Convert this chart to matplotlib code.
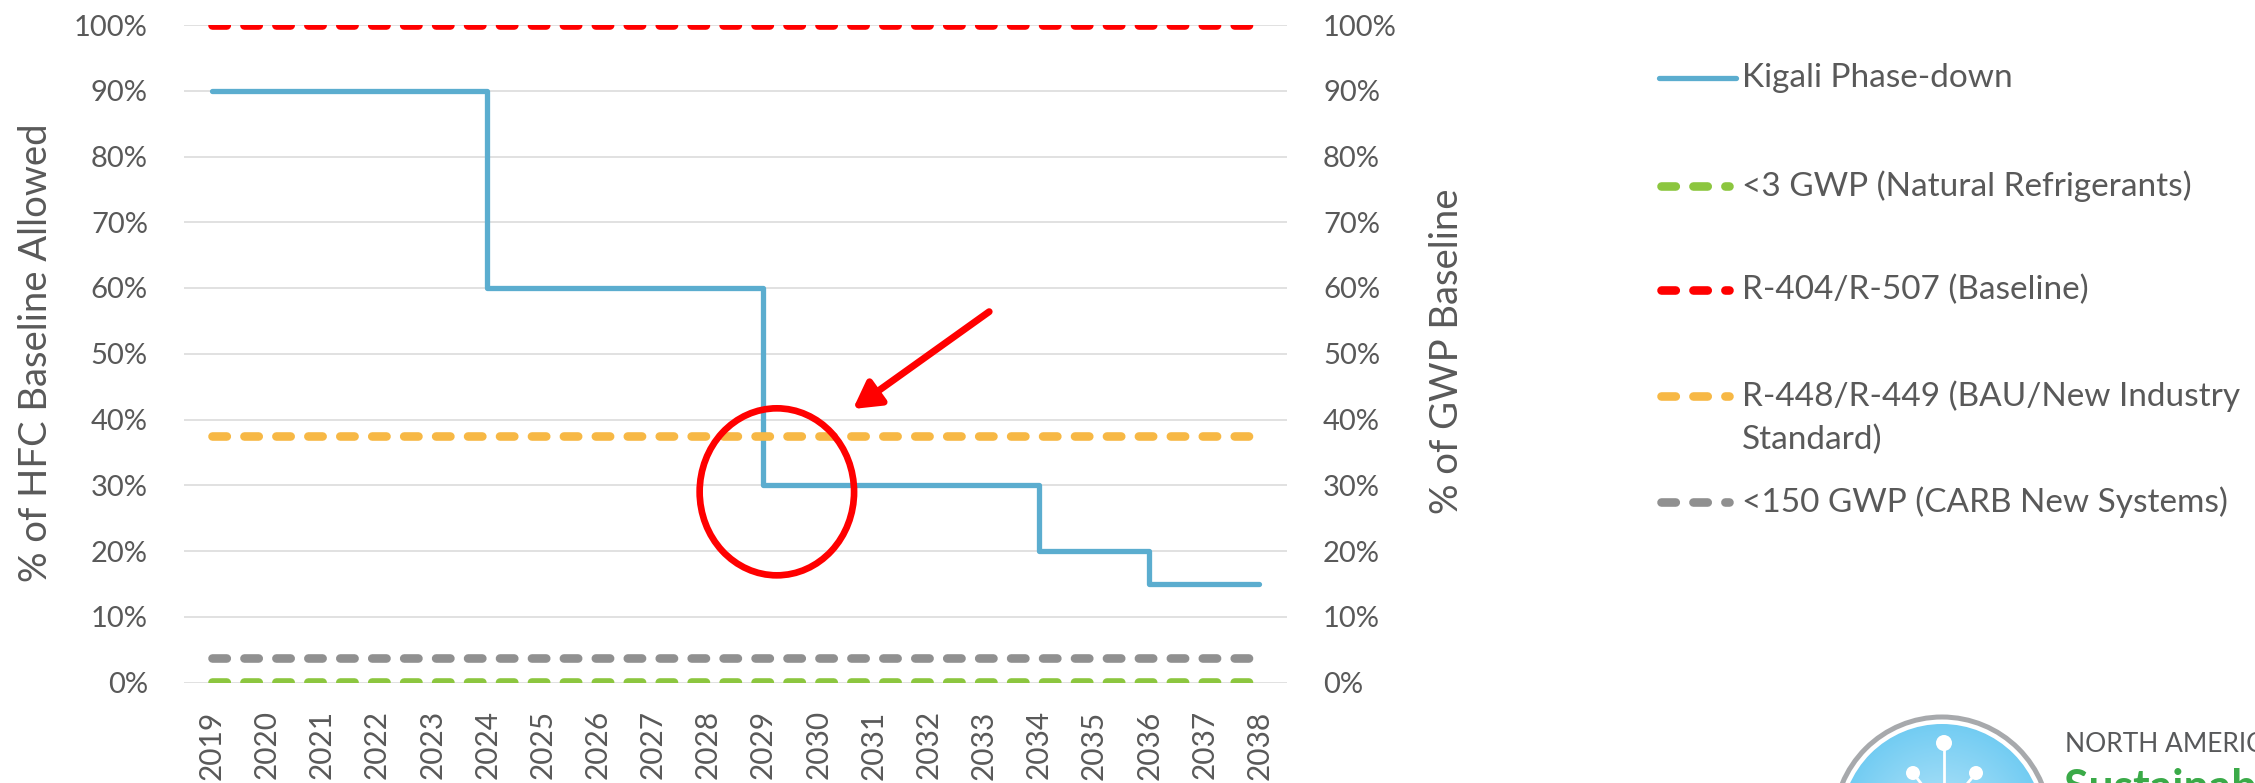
import numpy as np
import matplotlib.pyplot as plt
from matplotlib.patches import Ellipse, Circle
from matplotlib.colors import LinearSegmentedColormap
from matplotlib.ticker import PercentFormatter

plt.rcParams['font.family'] = ['Lato', 'DejaVu Sans']
plt.rcParams['lines.scale_dashes'] = False

# data
years = ['2019', '2020', '2021', '2022', '2023', '2024', '2025', '2026', '2027', '2028',
         '2029', '2030', '2031', '2032', '2033', '2034', '2035', '2036', '2037', '2038']
kigali = [0.90, 0.90, 0.90, 0.90, 0.90, 0.60, 0.60, 0.60, 0.60, 0.60,
          0.30, 0.30, 0.30, 0.30, 0.30, 0.20, 0.20, 0.15, 0.15, 0.15]
natural = 0.00075   # <3 GWP
baseline = 1.0      # R-404/R-507
bau = 0.375         # R-448/R-449
carb = 0.0375       # <150 GWP

labels = ['Kigali Phase-down',
          '<3 GWP (Natural Refrigerants)',
          'R-404/R-507 (Baseline)',
          'R-448/R-449 (BAU/New Industry\nStandard)',
          '<150 GWP (CARB New Systems)']
colors = ['#5BADCF', '#8CC63F', '#FF0000', '#F7B845', '#909090']

# highlight (circle + arrow), in category/value units
circle_xy = (10.25, 0.29)
circle_wh = (2.8, 0.254)
arrow_tail = (14.1, 0.564)
arrow_tip = (11.63, 0.416)

txt = '#595959'
W, H = 2255, 783
fig = plt.figure(figsize=(W / 100, H / 100), dpi=100)
ax = fig.add_axes([184 / W, 1 - 682.5 / H, 1103 / W, 657.5 / H])

x = np.arange(len(years))
ax.plot(x, kigali, drawstyle='steps-post', color=colors[0], lw=3.8,
        solid_joinstyle='round', solid_capstyle='round')
dash = dict(lw=6.2, dashes=(10.3, 12.7), dash_capstyle='round')
for v, c in zip([natural, baseline, bau, carb], colors[1:]):
    ax.plot(x, [v] * len(x), color=c, **dash)

ax.set_xlim(-0.5, len(years) - 0.5)
ax.set_ylim(0, 1)
ax.set_yticks(np.arange(0, 1.01, 0.1))
ax.yaxis.set_major_formatter(PercentFormatter(1.0, decimals=0))
ax.grid(axis='y', color='#D9D9D9', lw=1.1)
ax.set_axisbelow(True)
ax.set_xticks(x)
ax.set_xticklabels(years, rotation=90)
ax.tick_params(axis='x', length=0, pad=20, labelsize=21.5, labelcolor=txt)
ax.tick_params(axis='y', length=0, pad=26, labelsize=21, labelcolor=txt)
for s in ax.spines.values():
    s.set_visible(False)

ax2 = ax.twinx()
ax2.set_ylim(0, 1)
ax2.set_yticks(np.arange(0, 1.01, 0.1))
ax2.yaxis.set_major_formatter(PercentFormatter(1.0, decimals=0))
ax2.tick_params(axis='y', length=0, pad=26, labelsize=21, labelcolor=txt)
for s in ax2.spines.values():
    s.set_visible(False)

fig.text(36 / W, 1 - 353 / H, '% of HFC Baseline Allowed', rotation=90,
         ha='center', va='center', fontsize=27.5, color=txt)
fig.text(1447 / W, 1 - 351 / H, '% of GWP Baseline', rotation=90,
         ha='center', va='center', fontsize=27.5, color=txt)

# red highlight
ax.add_patch(Ellipse(circle_xy, circle_wh[0], circle_wh[1], fill=False,
                     edgecolor='#FF0000', lw=4.8, zorder=6, clip_on=False))
ax.annotate('', xy=arrow_tip, xytext=arrow_tail, zorder=6,
            arrowprops=dict(arrowstyle='-|>,head_length=0.8,head_width=0.45',
                            mutation_scale=20, color='#FF0000', lw=5,
                            shrinkA=0, shrinkB=0))

# overlay in pixel units for legend and logo
ov = fig.add_axes([0, 0, 1, 1])
ov.axis('off')
ov.set_zorder(-1)

rows = [78, 186, 290, 396, 502]
for i, (lab, c, y) in enumerate(zip(labels, colors, rows)):
    if i == 0:
        ov.plot([1659, 1736], [y, y], color=c, lw=3.8, solid_capstyle='round')
    else:
        ov.plot([1661, 1729], [y, y], color=c, lw=6.2, dashes=(10.3, 12.7),
                dash_capstyle='round')
    for k, line in enumerate(lab.split('\n')):
        ov.text(1742, y + k * 44, line, ha='left', va='center',
                fontsize=24, color=txt)

# logo (partially visible)
cx, cy = 1942, 825
gy, gx = np.mgrid[-1:1:200j, -1:1:200j]
grad = np.sqrt(gx ** 2 + gy ** 2)
cmap = LinearSegmentedColormap.from_list('lg', ['#B8E5F9', '#6CCAF2'])
im = ov.imshow(grad, extent=[cx - 101, cx + 101, cy + 101, cy - 101],
               cmap=cmap, vmin=0, vmax=1.1, zorder=1)
im.set_clip_path(Circle((cx, cy), 101, transform=ov.transData))
ov.add_patch(Circle((cx, cy), 108, facecolor='none', edgecolor='#A7A9AC',
                    lw=3.6, zorder=2))
ov.plot([1944, 1944], [743, 810], color='white', lw=2, zorder=3)
ov.plot([1913, 1930], [773, 795], color='white', lw=2, zorder=3)
ov.plot([1976, 1958], [773, 795], color='white', lw=2, zorder=3)
for (px, py, r) in [(1944, 743, 8), (1913, 773, 7), (1976, 773, 7)]:
    ov.add_patch(Circle((px, py), r, facecolor='white', edgecolor='none', zorder=3))
ov.text(2065, 752, 'NORTH AMERICAN', ha='left', va='baseline', fontsize=19,
        color='#58595B')
ov.text(2064, 800, 'Sustainable Refrigeration', ha='left', va='baseline',
        fontsize=32, fontweight='bold', color='#3AAA48')
ov.set_xlim(0, W)
ov.set_ylim(H, 0)
ov.set_aspect('auto')

fig.savefig('out.png', dpi=100)
